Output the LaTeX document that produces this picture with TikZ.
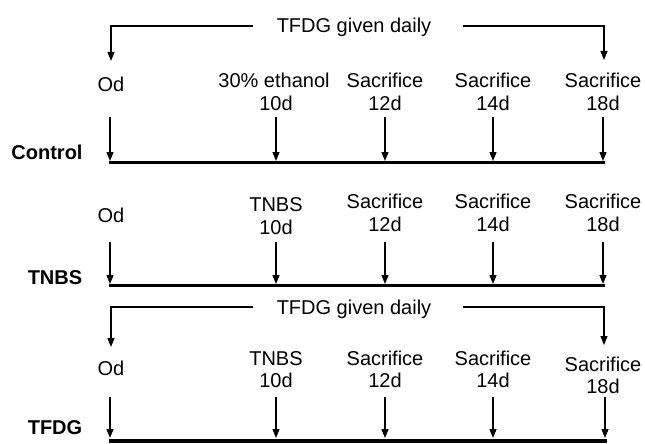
\documentclass[tikz,border=0pt]{standalone}
\usepackage{fontspec}
\setmainfont{Liberation Sans}
\usetikzlibrary{arrows.meta}
\begin{document}
\begin{tikzpicture}[x=1pt,y=-1pt,
  txt/.style={anchor=base,inner sep=0pt,font=\fontsize{20}{23}\selectfont},
  grp/.style={anchor=base,inner sep=0pt,font=\fontsize{20}{23}\selectfont\bfseries},
  arr/.style={line width=1.3pt,-{Triangle[length=9pt,width=7pt]}},
  brk/.style={line width=1.2pt,-{Triangle[length=9pt,width=7pt]}},
  axis/.style={line width=3.5pt}]
\useasboundingbox (0,0) rectangle (645,444);

% ---------- Panel 1: Control ----------
\node[txt] (b1) at (354,33) {TFDG given daily};
\coordinate (b1L) at (253,26); \coordinate (b1R) at (463,26);
\coordinate (b1Lt) at (111,61); \coordinate (b1Rt) at (604,60);
\draw[brk] (b1L) -| (b1Lt);
\draw[brk] (b1R) -| (b1Rt);

\node[txt] (p1od) at (111,92) {Od};
\node[txt] (p1t1) at (274,87) {30\% ethanol}; \node[txt] (p1d1) at (276,110) {10d};
\node[txt] (p1t2) at (385,87) {Sacrifice};    \node[txt] (p1d2) at (385,110) {12d};
\node[txt] (p1t3) at (493,87) {Sacrifice};    \node[txt] (p1d3) at (493,110) {14d};
\node[txt] (p1t4) at (603,87) {Sacrifice};    \node[txt] (p1d4) at (603,110) {18d};
\foreach \i/\x in {0/110,1/276,2/385,3/493,4/603}{
  \coordinate (p1a\i) at (\x,117); \coordinate (p1b\i) at (\x,161);
  \draw[arr] (p1a\i) -- (p1b\i);}
\coordinate (p1s) at (109,162.5); \coordinate (p1e) at (605,162.5);
\draw[axis] (p1s) -- (p1e);
\node[grp] (g1) at (47,159) {Control};

% ---------- Panel 2: TNBS ----------
\node[txt] (p2od) at (111,222) {Od};
\node[txt] (p2t1) at (276,211) {TNBS};      \node[txt] (p2d1) at (276,234) {10d};
\node[txt] (p2t2) at (385,208) {Sacrifice}; \node[txt] (p2d2) at (385,231) {12d};
\node[txt] (p2t3) at (493,208) {Sacrifice}; \node[txt] (p2d3) at (493,231) {14d};
\node[txt] (p2t4) at (603,208) {Sacrifice}; \node[txt] (p2d4) at (603,231) {18d};
\foreach \i/\x in {0/110,1/276,2/385,3/493,4/603}{
  \coordinate (p2a\i) at (\x,242); \coordinate (p2b\i) at (\x,284);
  \draw[arr] (p2a\i) -- (p2b\i);}
\coordinate (p2s) at (109,285.5); \coordinate (p2e) at (605,285.5);
\draw[axis] (p2s) -- (p2e);
\node[grp] (g2) at (55,284) {TNBS};

% ---------- Panel 3: TFDG ----------
\node[txt] (b3) at (354,314) {TFDG given daily};
\coordinate (b3L) at (253,307); \coordinate (b3R) at (463,307);
\coordinate (b3Lt) at (111,347); \coordinate (b3Rt) at (604,345);
\draw[brk] (b3L) -| (b3Lt);
\draw[brk] (b3R) -| (b3Rt);

\node[txt] (p3od) at (111,375) {Od};
\node[txt] (p3t1) at (276,365) {TNBS};      \node[txt] (p3d1) at (276,387) {10d};
\node[txt] (p3t2) at (385,365) {Sacrifice}; \node[txt] (p3d2) at (385,387) {12d};
\node[txt] (p3t3) at (493,365) {Sacrifice}; \node[txt] (p3d3) at (493,387) {14d};
\node[txt] (p3t4) at (603,371) {Sacrifice}; \node[txt] (p3d4) at (603,393) {18d};
\foreach \i/\x in {0/110,1/276,2/385,3/493,4/605}{
  \coordinate (p3a\i) at (\x,397); \coordinate (p3b\i) at (\x,438);
  \draw[arr] (p3a\i) -- (p3b\i);}
\coordinate (p3s) at (109,441); \coordinate (p3e) at (607,441);
\draw[axis,line width=4pt] (p3s) -- (p3e);
\node[grp] (g3) at (55,434) {TFDG};
\end{tikzpicture}
\end{document}
